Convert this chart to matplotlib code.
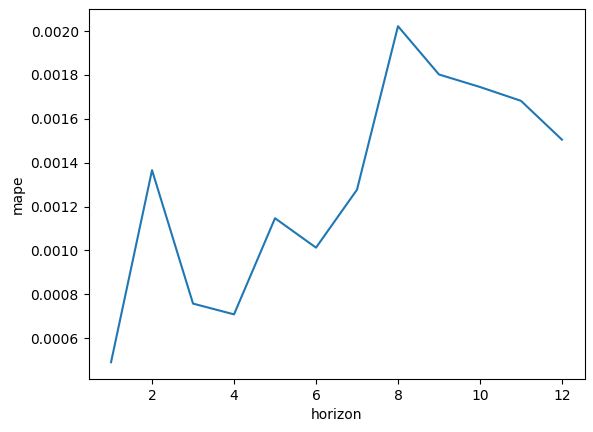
import matplotlib
matplotlib.use("Agg")
import matplotlib.pyplot as plt

horizon = [1, 2, 3, 4, 5, 6, 7, 8, 9, 10, 11, 12]
mape = [0.000491, 0.001366, 0.000758, 0.000709, 0.001147, 0.001013,
        0.001277, 0.002022, 0.001802, 0.001745, 0.001682, 0.001505]

fig = plt.figure(figsize=(5.93, 4.32), dpi=100)
ax = fig.add_axes([88.5 / 593, 53 / 432, 496 / 593, 369.6 / 432])
ax.plot(horizon, mape)
ax.set_xlabel("horizon")
ax.set_ylabel("mape")
fig.savefig("out.png")
